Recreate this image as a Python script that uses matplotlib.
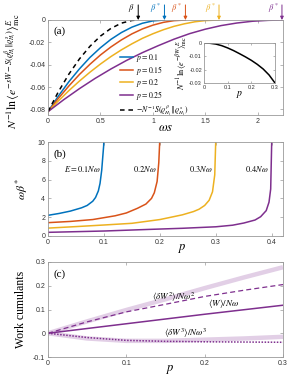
import numpy as np
import matplotlib.pyplot as plt
from matplotlib.ticker import FuncFormatter

plt.rcParams['mathtext.fontset'] = 'stix'
plt.rcParams['font.family'] = 'Liberation Serif'
plt.rcParams['axes.unicode_minus'] = False

blue, orange, yellow, purple = '#0072BD', '#D95319', '#EDB120', '#7E2F8E'
light_purple = '#e2cfe6'

# ---- panel (a): N^-1 ln<...> vs omega*s ----
ws_dash = [0, 0.1, 0.2, 0.3, 0.4, 0.5, 0.6, 0.7, 0.8, 0.86]
val_dash = [-0.082, -0.064, -0.0483, -0.0348, -0.0235, -0.0144, -0.0075, -0.0028, -0.0004, 0.0]

ws_p10 = [0, 0.1, 0.2, 0.3, 0.4, 0.5, 0.6, 0.7, 0.8, 0.9, 1.0, 1.11]
val_p10 = [-0.082, -0.0679, -0.0551, -0.0437, -0.0335, -0.0248, -0.0173, -0.0112,
           -0.0064, -0.0029, -0.0008, 0.0]

ws_p15 = [0, 0.1, 0.2, 0.3, 0.4, 0.5, 0.6, 0.7, 0.8, 0.9, 1.0, 1.1, 1.2, 1.31]
val_p15 = [-0.082, -0.070, -0.0589, -0.0487, -0.0396, -0.0313, -0.0241, -0.0178,
           -0.0124, -0.0080, -0.0046, -0.0021, -0.0006, 0.0]

ws_p20 = [0, 0.1, 0.2, 0.3, 0.4, 0.5, 0.6, 0.7, 0.8, 0.9, 1.0, 1.1, 1.2, 1.3, 1.4, 1.5, 1.63]
val_p20 = [-0.082, -0.0723, -0.0631, -0.0546, -0.0467, -0.0394, -0.0327, -0.0267,
           -0.0213, -0.0164, -0.0123, -0.0087, -0.0057, -0.0034, -0.0016, -0.0005, 0.0]

ws_p25 = [0, 0.15, 0.3, 0.45, 0.6, 0.75, 0.9, 1.05, 1.2, 1.35, 1.5, 1.65, 1.8, 1.95, 2.1, 2.23]
val_p25 = [-0.082, -0.0713, -0.0614, -0.0522, -0.0438, -0.0361, -0.0292, -0.0230,
           -0.0172, -0.0122, -0.0082, -0.0050, -0.0027, -0.0011, -0.0003, 0.0]

beta_star = [1.11, 1.31, 1.63, 2.23]
beta_plain = 0.86

# inset
p_inset = [0, 0.025, 0.05, 0.075, 0.1, 0.125, 0.15, 0.175, 0.2, 0.225, 0.25, 0.275, 0.3]
val_inset = [0, -0.0002, -0.0008, -0.0020, -0.0037, -0.0057, -0.0080, -0.0104,
             -0.0130, -0.0160, -0.0195, -0.0240, -0.0300]

# ---- panel (b): omega*beta* vs p ----
pb_1 = [0, 0.02, 0.04, 0.06, 0.07, 0.08, 0.085, 0.09, 0.093, 0.096, 0.098, 0.0995, 0.1]
bb_1 = [2.2, 2.4, 2.65, 3.0, 3.25, 3.7, 4.1, 4.8, 5.6, 7.0, 8.5, 9.6, 10.5]
pb_2 = [0, 0.04, 0.08, 0.1, 0.12, 0.14, 0.16, 0.175, 0.185, 0.19, 0.195, 0.198, 0.2]
bb_2 = [1.42, 1.55, 1.75, 1.95, 2.15, 2.45, 2.95, 3.4, 4.0, 4.6, 5.8, 7.8, 10.5]
pb_3 = [0, 0.05, 0.1, 0.15, 0.2, 0.22, 0.24, 0.26, 0.27, 0.28, 0.288, 0.294, 0.298, 0.3]
bb_3 = [0.84, 1.0, 1.17, 1.35, 1.75, 2.0, 2.25, 2.6, 2.85, 3.25, 3.8, 4.7, 6.5, 10.5]
pb_4 = [0, 0.1, 0.18, 0.24, 0.3, 0.33, 0.35, 0.37, 0.38, 0.39, 0.395, 0.398, 0.4]
bb_4 = [0.39, 0.53, 0.70, 0.82, 0.98, 1.15, 1.38, 1.7, 2.05, 2.7, 3.6, 5.0, 10.5]
E_labels = ['$E=0.1N\\omega$', '$0.2N\\omega$', '$0.3N\\omega$', '$0.4N\\omega$']

# ---- panel (c): work cumulants vs p ----
pc = [0, 0.05, 0.1, 0.15, 0.2, 0.25, 0.3]
w2_theory = [0, 0.050, 0.098, 0.143, 0.190, 0.235, 0.278]
w2 = [0, 0.048, 0.090, 0.122, 0.155, 0.181, 0.205]
w1 = [0, 0.020, 0.040, 0.060, 0.080, 0.099, 0.118]
w3_theory = [0, -0.022, -0.032, -0.032, -0.027, -0.022, -0.015]
w3 = [0, -0.018, -0.030, -0.034, -0.036, -0.037, -0.038]

W, H = 299, 384
fig = plt.figure(figsize=(W / 100, H / 100), dpi=100)


def box(x0, y0, x1, y1):
    return [x0 / W, 1 - y1 / H, (x1 - x0) / W, (y1 - y0) / H]


def style(ax, size=5):
    for s in ax.spines.values():
        s.set_color('#9a9a9a')
        s.set_linewidth(0.6)
    ax.tick_params(direction='in', length=2, width=0.5, colors='#9a9a9a',
                   labelcolor='#333333', labelsize=size, top=True, right=True, pad=2)
    for lab in ax.get_xticklabels() + ax.get_yticklabels():
        lab.set_family('Liberation Sans')
    ax.xaxis.set_major_formatter(FuncFormatter(lambda v, _: '{:g}'.format(round(v, 6))))
    ax.yaxis.set_major_formatter(FuncFormatter(lambda v, _: '{:g}'.format(round(v, 6))))


# (a)
ax = fig.add_axes(box(48, 20, 283, 115))
ax.plot(ws_p10, val_p10, color=blue, lw=1.1, label='$p=0.1$')
ax.plot(ws_p15, val_p15, color=orange, lw=1.1, label='$p=0.15$')
ax.plot(ws_p20, val_p20, color=yellow, lw=1.1, label='$p=0.2$')
ax.plot(ws_p25, val_p25, color=purple, lw=1.1, label='$p=0.25$')
ax.plot(ws_dash, val_dash, color='k', lw=1.1, ls=(0, (3, 2.5)),
        label='$-N^{-1}S(\\varrho^\\beta_{H_i}\\|\\varrho^s_{H_i})$')
ax.set_xlim(0, 2.24)
ax.set_ylim(-0.085, 0.0)
ax.set_xticks([0, 0.5, 1, 1.5, 2])
ax.set_yticks([-0.08, -0.06, -0.04, -0.02, 0])
style(ax)
for b, c in zip(beta_star, [blue, orange, yellow, purple]):
    ax.annotate('', xy=(b, 0), xytext=(b, 0.0135), annotation_clip=False,
                arrowprops=dict(arrowstyle='-|>', color=c, lw=0.7, mutation_scale=5,
                                shrinkA=0, shrinkB=0))
    ax.text(b - 0.03, 0.0105, '$\\beta^*$', color=c, fontsize=6, ha='right',
            va='center', clip_on=False)
ax.annotate('', xy=(beta_plain, 0), xytext=(beta_plain, 0.0135), annotation_clip=False,
            arrowprops=dict(arrowstyle='-|>', color='k', lw=0.7, mutation_scale=5,
                            shrinkA=0, shrinkB=0))
ax.text(beta_plain - 0.03, 0.0105, '$\\beta$', color='k', fontsize=6, ha='right',
        va='center', clip_on=False)
ax.text(0.025, 0.88, '(a)', transform=ax.transAxes, fontsize=8, va='center')
ax.set_xlabel('$\\omega s$', fontsize=9)
ax.xaxis.set_label_coords(0.5, -0.07)
ax.set_ylabel('$N^{-1}\\ln\\langle e^{-sW-S(\\varrho^\\beta_{H_i}\\|\\varrho^s_{H_i})}'
              '\\rangle^E_{\\rm mc}$', fontsize=8.5)
ax.yaxis.set_label_coords(-0.105, 0.46)
ax.legend(loc='upper left', bbox_to_anchor=(0.285, 0.71), frameon=False, fontsize=5.6,
          handlelength=1.7, labelspacing=0.0, handletextpad=0.4, borderpad=0.1)

# inset
ai = fig.add_axes(box(204, 43, 275, 83))
ai.plot(p_inset, val_inset, color='k', lw=1.1)
ai.set_xlim(0, 0.3)
ai.set_ylim(-0.03, 0)
ai.set_xticks([0, 0.1, 0.2, 0.3])
ai.set_yticks([-0.03, -0.02, -0.01, 0])
style(ai, size=4)
ai.tick_params(length=1.5, pad=1.5)
ai.set_xlabel('$p$', fontsize=7)
ai.xaxis.set_label_coords(0.5, -0.14)
ai.set_ylabel('$N^{-1}\\ln\\langle e^{-\\beta W}\\rangle^E_{\\rm mc}$', fontsize=6)
ai.yaxis.set_label_coords(-0.2, 0.5)

# (b)
bx = fig.add_axes(box(48, 142, 283, 236))
for pp, bb, c in zip([pb_1, pb_2, pb_3, pb_4], [bb_1, bb_2, bb_3, bb_4],
                     [blue, orange, yellow, purple]):
    bx.plot(pp, bb, color=c, lw=1.1)
for k, lab in enumerate(E_labels):
    bx.text(0.1 * (k + 1) - 0.006, 7.1, lab, fontsize=6, ha='right', va='center')
bx.set_xlim(0, 0.42)
bx.set_ylim(0, 10)
bx.set_xticks([0, 0.1, 0.2, 0.3, 0.4])
bx.set_yticks([0, 2, 4, 6, 8, 10])
style(bx)
bx.text(0.025, 0.87, '(b)', transform=bx.transAxes, fontsize=8, va='center')
bx.set_xlabel('$p$', fontsize=9)
bx.xaxis.set_label_coords(0.57, -0.06)
bx.set_ylabel('$\\omega\\beta^*$', fontsize=8.5)
bx.yaxis.set_label_coords(-0.075, 0.5)

# (c)
cx = fig.add_axes(box(48, 262, 283, 357))
cx.plot(pc, w2_theory, color=light_purple, lw=3.2, solid_capstyle='butt')
cx.plot(pc, w3_theory, color=light_purple, lw=3.2, solid_capstyle='butt')
cx.plot(pc, w2, color=purple, lw=0.9, ls=(0, (4, 2.5)))
cx.plot(pc, w1, color=purple, lw=1.1)
cx.plot(pc, w3, color=purple, lw=1.1, ls=(0, (1, 1)))
cx.text(0.16, 0.152, '$\\langle\\delta W^2\\rangle/N\\omega^2$', fontsize=6.5, ha='center', va='center')
cx.text(0.224, 0.124, '$\\langle W\\rangle/N\\omega$', fontsize=6.5, ha='center', va='center')
cx.text(0.176, 0.0, '$\\langle\\delta W^3\\rangle/N\\omega^3$', fontsize=6.5, ha='center', va='center')
cx.set_xlim(0, 0.3)
cx.set_ylim(-0.1, 0.3)
cx.set_xticks([0, 0.1, 0.2, 0.3])
cx.set_yticks([-0.1, 0, 0.1, 0.2, 0.3])
style(cx)
cx.text(0.025, 0.87, '(c)', transform=cx.transAxes, fontsize=8, va='center')
cx.set_xlabel('$p$', fontsize=9)
cx.xaxis.set_label_coords(0.52, -0.06)
cx.set_ylabel('Work cumulants', fontsize=8.5)
cx.yaxis.set_label_coords(-0.09, 0.5)

fig.savefig('out.png', dpi=100)
